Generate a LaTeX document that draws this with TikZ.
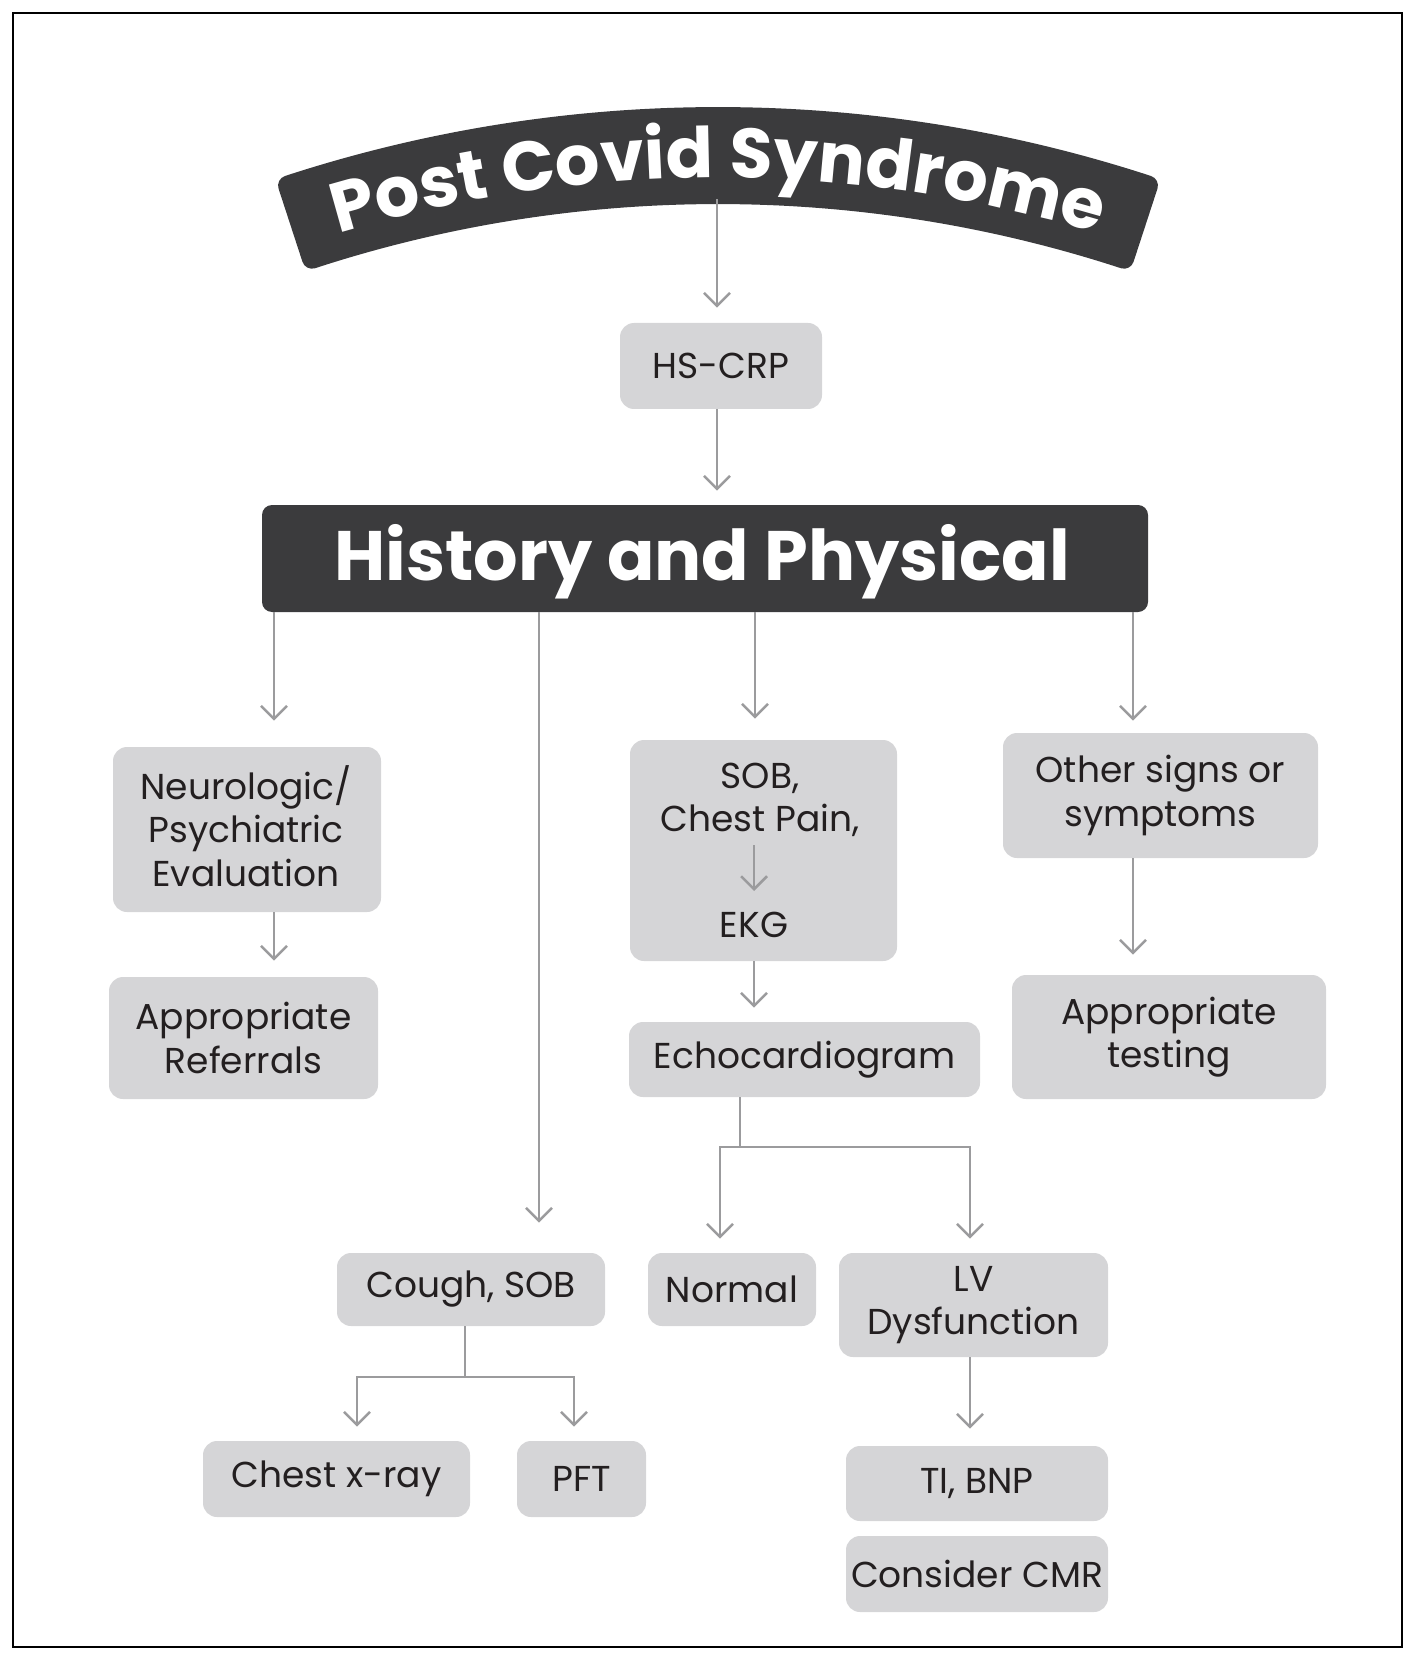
\documentclass[tikz,border=0pt]{standalone}
\usepackage{fontspec}
\setmainfont{Poppins}
\usetikzlibrary{arrows.meta,decorations.text,calc}
\definecolor{boxgray}{HTML}{D5D5D7}
\definecolor{darkbox}{HTML}{3B3B3D}
\definecolor{arrowgray}{HTML}{9B9B9D}
\definecolor{txt}{HTML}{231F20}
\newcommand{\bannerfont}{\fontsize{35}{40}\selectfont\bfseries}
\begin{document}
\begin{tikzpicture}[x=0.5pt,y=-0.5pt,
  lbox/.style={fill=boxgray, rounded corners=7pt, inner sep=0pt, align=center, text=txt, font=\fontsize{18}{21.8}\selectfont},
  plain/.style={inner sep=0pt, align=center, text=txt, font=\fontsize{18}{21.8}\selectfont},
  darknode/.style={fill=darkbox, rounded corners=5pt, inner sep=0pt, text=white, font=\fontsize{35}{40}\selectfont\bfseries},
  flow/.style={draw=arrowgray, line width=1.25pt, -{Straight Barb[length=6.5pt,width=13pt,line width=1.25pt]}},
  link/.style={draw=arrowgray, line width=1.25pt}]
\useasboundingbox (0,0) rectangle (1417,1663);
\draw[line width=1pt] (13,13) rectangle (1402,1647);
% banner
\coordinate (bc) at (718,1501);
\filldraw[darkbox, line width=10pt, line join=round]
  ($(bc)+(-108.1:1384)$) arc[start angle=-108.1,end angle=-71.9,radius=1384]
  -- ($(bc)+(-71.9:1307)$) arc[start angle=-71.9,end angle=-108.1,radius=1307] -- cycle;
\path[decorate, decoration={text along path, text={|\bannerfont|Post Covid Syndrome}, text align=center, text color=white}]
  ($(bc)+(-118:1323)$) arc[start angle=-118,end angle=-62,radius=1323];
\coordinate (bannerb) at (717,199);
% nodes
\node[lbox, minimum width=101pt, minimum height=43pt] (hscrp) at (721,366) {HS-CRP};
\node[darknode, minimum width=443pt, minimum height=53.5pt] (hp) at (705,558.5) {};
\node[inner sep=0pt, text=white, font=\fontsize{35}{40}\selectfont\bfseries] (hptxt) at (702,562) {History and Physical};
\node[lbox, minimum width=134pt, minimum height=82.5pt] (neuro) at (247,829.5) {};
\node[plain] (neurotxt) at (246,826) {Neurologic/\\Psychiatric\\Evaluation};
\node[lbox, minimum width=134.5pt, minimum height=61pt] (refer) at (243.5,1038) {Appropriate\\Referrals};
\node[lbox, minimum width=133.5pt, minimum height=110.5pt] (sob) at (763.5,850.5) {};
\node[plain] (sobtxt) at (760,800) {SOB,\\Chest Pain,};
\node[plain] (ekg) at (754,925) {EKG};
\node[lbox, minimum width=175.5pt, minimum height=37.5pt] (echo) at (804.5,1059.5) {Echocardiogram};
\node[lbox, minimum width=84pt, minimum height=36.5pt] (normal) at (732,1289.5) {Normal};
\node[lbox, minimum width=134.5pt, minimum height=52pt] (lv) at (973.5,1305) {LV\\Dysfunction};
\node[lbox, minimum width=131pt, minimum height=37.5pt] (tibnp) at (977,1483.5) {TI, BNP};
\node[lbox, minimum width=131pt, minimum height=38pt] (cmr) at (977,1574) {Consider CMR};
\node[lbox, minimum width=134pt, minimum height=36.5pt] (cough) at (471,1289.5) {Cough, SOB};
\node[lbox, minimum width=133.5pt, minimum height=38pt] (cxr) at (336.5,1479) {Chest x-ray};
\node[lbox, minimum width=64.5pt, minimum height=38pt] (pft) at (581.5,1479) {PFT};
\node[lbox, minimum width=157.5pt, minimum height=62.5pt] (other) at (1160.5,795.5) {Other signs or\\symptoms};
\node[lbox, minimum width=157pt, minimum height=62pt] (testing) at (1169,1037) {Appropriate\\testing};
% connectors
\draw[flow, shorten >=7.5pt] (bannerb) -- (bannerb |- hscrp.north);
\draw[flow, shorten >=7pt] (hscrp.south -| bannerb) -- (hp.north -| bannerb);
\coordinate (c1) at (274,0);
\coordinate (c2) at (539,0);
\coordinate (c3) at (755,0);
\coordinate (c4) at (1133,0);
\coordinate (c5) at (754,0);
\coordinate (c6) at (970,0);
\draw[flow, shorten >=13pt] (hp.south -| c1) -- (neuro.north -| c1);
\draw[flow, shorten >=15pt] (hp.south -| c2) -- (cough.north -| c2);
\draw[flow, shorten >=10.5pt] (hp.south -| c3) -- (sob.north -| c3);
\draw[flow, shorten >=6pt] (hp.south -| c4) -- (other.north -| c4);
\draw[flow, shorten >=8pt] (neuro.south -| c1) -- (refer.north -| c1);
\draw[flow, shorten >=10pt] (other.south -| c4) -- (testing.north -| c4);
\coordinate (ia) at (754,845);
\coordinate (ib) at (754,891);
\draw[flow] (ia) -- (ib);
\draw[flow, shorten >=7pt] (sob.south -| c5) -- (echo.north -| c5);
\coordinate (ej) at (740,1147);
\coordinate (en) at (720,0);
\coordinate (el) at (970,0);
\draw[link] (echo.south -| ej) -- (ej);
\draw[flow, shorten >=7pt] (ej) -| (normal.north -| en);
\draw[flow, shorten >=7pt] (ej) -| (lv.north -| el);
\draw[flow, shorten >=8.5pt] (lv.south -| c6) -- (tibnp.north -| c6);
\coordinate (cj) at (465,1377);
\coordinate (cl) at (357,0);
\coordinate (cr) at (574,0);
\draw[link] (cough.south -| cj) -- (cj);
\draw[flow, shorten >=7pt] (cj) -| (cxr.north -| cl);
\draw[flow, shorten >=7pt] (cj) -| (pft.north -| cr);
\end{tikzpicture}
\end{document}
